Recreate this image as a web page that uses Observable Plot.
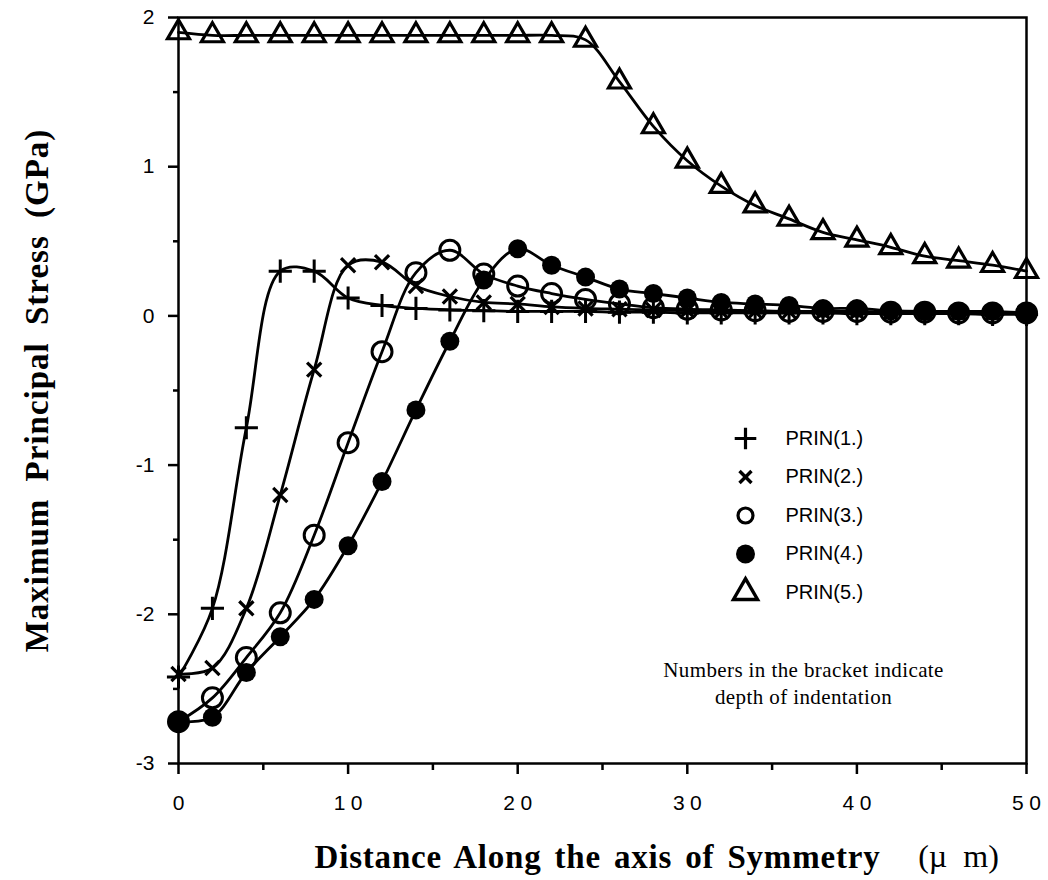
<!DOCTYPE html>
<html><head><meta charset="utf-8">
<script src="https://cdn.jsdelivr.net/npm/d3@7"></script>
<script src="https://cdn.jsdelivr.net/npm/@observablehq/plot@0.6"></script>
<style>
body{margin:0;background:#fff;}
#chart svg{display:block;}
g[aria-label="x-axis tick label"] text{letter-spacing:5.5px;}
</style></head><body><div id="chart"></div>
<script>
// ---- data ----
const xs = [0,2,4,6,8,10,12,14,16,18,20,22,24,26,28,30,32,34,36,38,40,42,44,46,48,50];
const prin1 = [-2.42,-1.96,-0.75,0.30,0.30,0.12,0.07,0.05,0.04,0.035,0.03,0.03,0.03,0.025,0.025,0.02,0.02,0.02,0.02,0.02,0.015,0.015,0.015,0.015,0.01,0.01];
const prin2 = [-2.40,-2.36,-1.96,-1.20,-0.36,0.34,0.36,0.20,0.13,0.09,0.08,0.06,0.05,0.045,0.04,0.035,0.03,0.03,0.03,0.025,0.025,0.02,0.02,0.02,0.02,0.02];
const prin3 = [-2.72,-2.56,-2.29,-1.99,-1.47,-0.85,-0.24,0.29,0.44,0.28,0.20,0.15,0.11,0.08,0.055,0.045,0.04,0.035,0.03,0.03,0.03,0.025,0.025,0.02,0.02,0.02];
const prin4 = [-2.72,-2.69,-2.39,-2.15,-1.90,-1.54,-1.11,-0.63,-0.17,0.24,0.45,0.34,0.26,0.18,0.15,0.12,0.09,0.08,0.07,0.05,0.05,0.035,0.03,0.03,0.03,0.02];
const prin5 = [1.90,1.88,1.88,1.88,1.88,1.88,1.88,1.88,1.88,1.88,1.88,1.88,1.85,1.57,1.27,1.04,0.87,0.74,0.65,0.56,0.51,0.46,0.40,0.37,0.34,0.30];
const seriesNames = ["PRIN(1.)","PRIN(2.)","PRIN(3.)","PRIN(4.)","PRIN(5.)"];
const xMajorTicks = [0,10,20,30,40,50];
const xMinorTicks = [5,15,25,35,45];
const yMajorTicks = [-3,-2,-1,0,1,2];
const yMinorTicks = [-2.5,-1.5,-0.5,0.5,1.5];
const xTitle = "Distance Along the axis of Symmetry";
const xUnit = "(µ m)";
const yTitle = "Maximum Principal Stress (GPa)";
const noteLines = ["Numbers in the bracket indicate","depth of indentation"];

// ---- build ----
const allSeries = [prin1, prin2, prin3, prin4, prin5];
const rows = allSeries.flatMap((vals, i) => vals.map((v, j) => ({x: xs[j], y: v, s: seriesNames[i]})));

const styles = {
  "PRIN(1.)": {symbol: "plus", r: 7.5, fill: "none", stroke: "black", strokeWidth: 3},
  "PRIN(2.)": {symbol: "times", r: 6.5, fill: "none", stroke: "black", strokeWidth: 3.2},
  "PRIN(3.)": {symbol: "circle", r: 10, fill: "none", stroke: "black", strokeWidth: 3},
  "PRIN(4.)": {symbol: "circle", r: 9.5, fill: "black", stroke: "none", strokeWidth: 0},
  "PRIN(5.)": {symbol: "triangle2", r: 10.5, fill: "none", stroke: "black", strokeWidth: 3.2}
};
const legendStyles = {
  "PRIN(1.)": {r: 7, strokeWidth: 3.2},
  "PRIN(2.)": {r: 5.5, strokeWidth: 3.4},
  "PRIN(3.)": {r: 7.5, strokeWidth: 3.2},
  "PRIN(4.)": {r: 9.5, strokeWidth: 0},
  "PRIN(5.)": {r: 11.5, strokeWidth: 3.4}
};
const serif = "Liberation Serif, Times New Roman, serif";
const sans = "Liberation Sans, Arial, sans-serif";

const marks = [];
marks.push(Plot.line(rows, {x: "x", y: "y", z: "s", curve: "catmull-rom", stroke: "black", strokeWidth: 2.8}));
seriesNames.forEach(name => {
  const st = styles[name];
  marks.push(Plot.dot(rows.filter(d => d.s === name), {x: "x", y: "y", symbol: st.symbol, r: st.r, fill: st.fill, stroke: st.stroke, strokeWidth: st.strokeWidth}));
});
// legend
seriesNames.forEach((name, i) => {
  const st = styles[name], ls = legendStyles[name];
  marks.push(Plot.dot([name], {frameAnchor: "top-left", dx: 567, dy: 421 + i * 38.5, symbol: st.symbol, r: ls.r, fill: st.fill, stroke: st.stroke, strokeWidth: ls.strokeWidth}));
  marks.push(Plot.text([name], {frameAnchor: "top-left", dx: 607, dy: 421 + i * 38.5, text: d => d, textAnchor: "start", lineAnchor: "middle", fontSize: 20, fontFamily: sans, fill: "black"}));
});
noteLines.forEach((line, i) => {
  marks.push(Plot.text([line], {frameAnchor: "top-left", dx: 625, dy: 653 + i * 27, text: d => d, textAnchor: "middle", lineAnchor: "middle", fontSize: 21, fontFamily: serif, fill: "black"}));
});
// axes
marks.push(Plot.axisX(xMajorTicks, {tickSize: 11, strokeWidth: 2.5, tickFormat: () => "", label: null}));
marks.push(Plot.axisX(xMajorTicks, {tickSize: 0, tickPadding: 32, fontSize: 21, tickFormat: d => String(d), label: null, dx: 2.75}));
marks.push(Plot.axisX(xMinorTicks, {tickSize: 7, strokeWidth: 2.5, tickFormat: () => "", label: null}));
marks.push(Plot.axisY(yMajorTicks, {tickSize: 10, tickPadding: 14, fontSize: 21, strokeWidth: 2.5, tickFormat: d => String(d), label: null}));
marks.push(Plot.axisY(yMinorTicks, {tickSize: 5, strokeWidth: 2.5, tickFormat: () => "", label: null}));
marks.push(Plot.frame({stroke: "black", strokeWidth: 2.5}));
// titles
marks.push(Plot.text([yTitle], {frameAnchor: "left", dx: -141, rotate: -90, text: d => d, textAnchor: "middle", lineAnchor: "middle", fontSize: 33, fontWeight: "bold", fontFamily: serif, fill: "black"}));
marks.push(Plot.text([xTitle], {frameAnchor: "bottom-left", dx: 419, dy: 94, text: d => d, textAnchor: "middle", lineAnchor: "middle", fontSize: 33, fontWeight: "bold", fontFamily: serif, fill: "black"}));
marks.push(Plot.text([xUnit], {frameAnchor: "bottom-left", dx: 780, dy: 93, text: d => d, textAnchor: "middle", lineAnchor: "middle", fontSize: 32, fontFamily: serif, fill: "black"}));

const chart = Plot.plot({
  width: 1048,
  height: 880,
  marginLeft: 178,
  marginRight: 22,
  marginTop: 17,
  marginBottom: 117,
  x: {domain: [0, 50]},
  y: {domain: [-3, 2]},
  style: {fontFamily: sans, background: "white", color: "black"},
  marks
});
// text spacing tweaks
const spacing = new Map([
  [xTitle, {ls: "0.8px", ws: "4px"}],
  [yTitle, {ls: "1px", ws: "8px"}],
  [xUnit, {ls: "0px", ws: "8px"}],
  [noteLines[0], {ls: "0.4px", ws: "0px"}],
  [noteLines[1], {ls: "0.4px", ws: "0px"}]
]);
d3.select(chart).selectAll("text").each(function() {
  const s = spacing.get(this.textContent);
  if (s) { this.style.letterSpacing = s.ls; this.style.wordSpacing = s.ws; }
});
document.getElementById("chart").appendChild(chart);
</script></body></html>
